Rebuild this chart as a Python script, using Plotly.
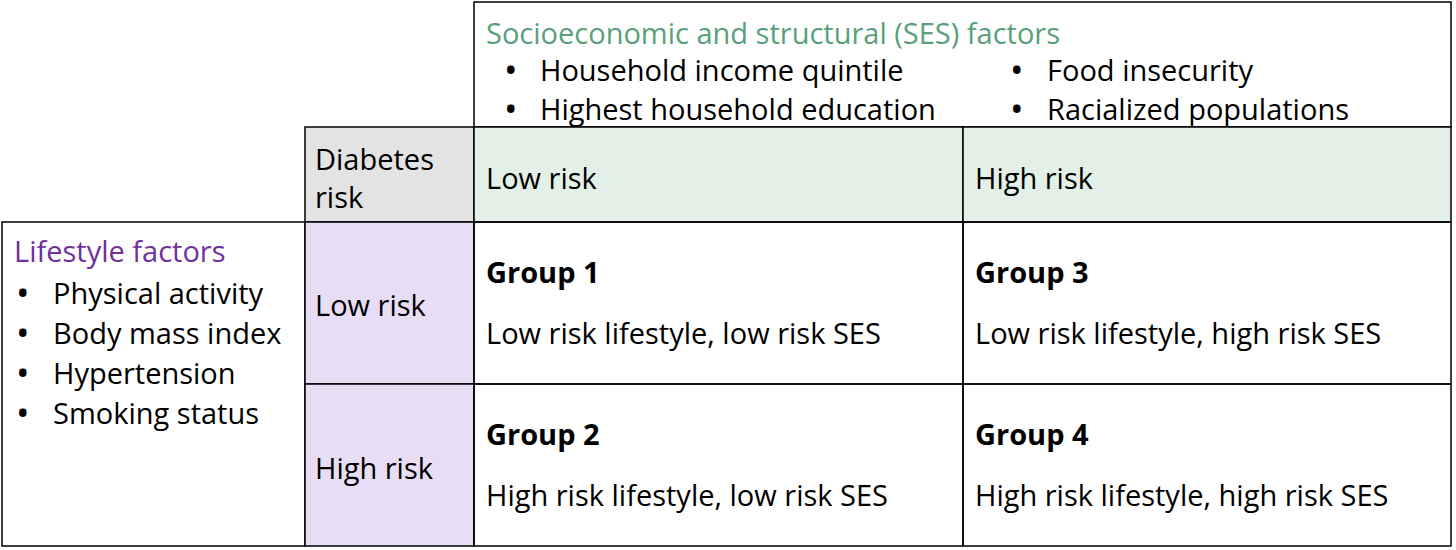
import plotly.graph_objects as go

ses_title = "Socioeconomic and structural (SES) factors"
ses_factors = ["Household income quintile", "Highest household education", "Food insecurity", "Racialized populations"]
life_title = "Lifestyle factors"
life_factors = ["Physical activity", "Body mass index", "Hypertension", "Smoking status"]
col_labels = ["Low risk", "High risk"]
row_labels = ["Low risk", "High risk"]
corner = "Diabetes<br>risk"
groups = [["Group 1", "Group 3"], ["Group 2", "Group 4"]]
descs = [["Low risk lifestyle, low risk SES", "Low risk lifestyle, high risk SES"],
         ["High risk lifestyle, low risk SES", "High risk lifestyle, high risk SES"]]

FONT = "Open Sans"
FS = 29
GREEN_T = "#5a9f7c"; PURPLE_T = "#7030a0"
GREEN_F = "#e2f0e7"; PURPLE_F = "#e7def5"; GRAY_F = "#e3e3e3"

X = [2, 305, 474, 963, 1451]
Y = [2, 127, 222, 384, 546]

shapes = []
def rect(x0, y0, x1, y1, fill="rgba(0,0,0,0)"):
    shapes.append(dict(type="rect", x0=x0, x1=x1, y0=y0, y1=y1, xref="x", yref="y",
                       line=dict(color="black", width=1.5), fillcolor=fill, layer="below"))

rect(X[2], Y[0], X[4], Y[1])
rect(X[1], Y[1], X[2], Y[2], GRAY_F)
rect(X[2], Y[1], X[3], Y[2], GREEN_F)
rect(X[3], Y[1], X[4], Y[2], GREEN_F)
rect(X[0], Y[2], X[1], Y[4])
for r in range(2):
    rect(X[1], Y[2+r], X[2], Y[3+r], PURPLE_F)
    for c in range(2):
        rect(X[2+c], Y[2+r], X[3+c], Y[3+r])

ann = []
def txt(x, y, s, color="black", bold=False, size=FS):
    ann.append(dict(x=x, y=y, xref="x", yref="y", text=f"<b>{s}</b>" if bold else s,
                    showarrow=False, xanchor="left", yanchor="middle",
                    font=dict(family=FONT, size=size, color=color), align="left"))

txt(484, 32, ses_title, GREEN_T)
for i, f in enumerate(ses_factors):
    col, row = divmod(i, 2)
    bx = [502, 1008][col]; tx = [538, 1045][col]; y = [69, 108][row]
    txt(bx, y, "•", size=36); txt(tx, y, f)
txt(313, 177, corner)
for c, l in enumerate(col_labels):
    txt(X[2+c] + 10, 177, l)
txt(12, 250, life_title, PURPLE_T)
for i, f in enumerate(life_factors):
    y = 292 + 40*i
    txt(14, y, "•", size=36); txt(51, y, f)
for r, l in enumerate(row_labels):
    txt(313, [304, 467][r], l)
    for c in range(2):
        txt(X[2+c] + 10, Y[2+r] + 49, groups[r][c], bold=True)
        txt(X[2+c] + 10, Y[2+r] + 110, descs[r][c])

fig = go.Figure()
fig.update_layout(width=1456, height=550, margin=dict(l=0, r=0, t=0, b=0),
                  plot_bgcolor="white", paper_bgcolor="white", shapes=shapes, annotations=ann,
                  xaxis=dict(range=[0, 1456], visible=False, fixedrange=True),
                  yaxis=dict(range=[550, 0], visible=False, fixedrange=True),
                  showlegend=False)
fig.write_html("out.html", config={"displayModeBar": False},
               post_script="document.body.style.margin='0';document.body.style.overflow='hidden';")
